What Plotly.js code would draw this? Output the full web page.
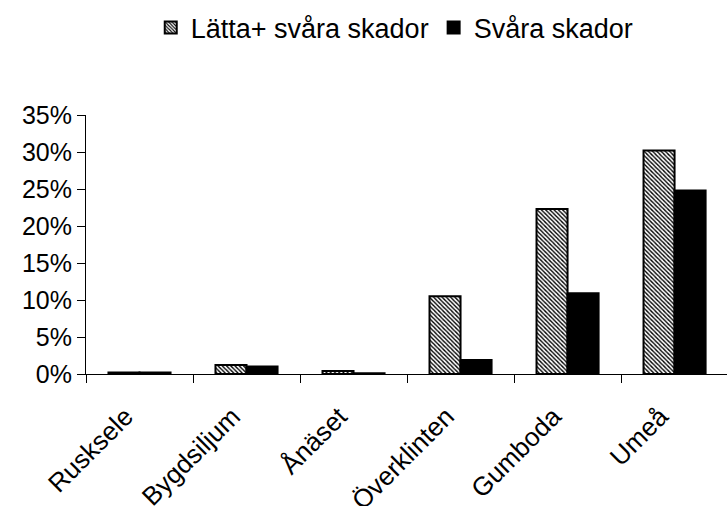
<!DOCTYPE html>
<html><head><meta charset="utf-8">
<script src="https://cdn.plot.ly/plotly-3.0.1.min.js"></script>
<style>body{margin:0;padding:0;background:#fff}#chart{width:727px;height:506px}</style>
</head><body><div id="chart"></div>
<script>
const categories = ["Rusksele", "Bygdsiljum", "Ånäset", "Överklinten", "Gumboda", "Umeå"];
const lattaSvara = [0.002, 0.012, 0.004, 0.105, 0.223, 0.302];
const svara = [0.002, 0.010, 0.001, 0.019, 0.109, 0.248];
const seriesNames = ["Lätta+ svåra skador", "Svåra skador"];
const yTicks = [0, 0.05, 0.10, 0.15, 0.20, 0.25, 0.30, 0.35];
const yTickText = ["0%", "5%", "10%", "15%", "20%", "25%", "30%", "35%"];

const fam = "Liberation Sans, Arial, sans-serif";
const traces = [
  {type: "bar", x: categories, y: lattaSvara, name: seriesNames[0],
   marker: {color: "#fff", line: {color: "#000", width: 2},
            pattern: {shape: "\\", fgcolor: "#000", bgcolor: "#fff", size: 3, solidity: 0.45}}},
  {type: "bar", x: categories, y: svara, name: seriesNames[1],
   marker: {color: "#000", line: {color: "#000", width: 2}}}
];
const layout = {
  width: 727, height: 506,
  margin: {l: 86, r: 0, t: 115, b: 132},
  paper_bgcolor: "#fff", plot_bgcolor: "#fff",
  font: {family: fam, size: 25, color: "#000"},
  barmode: "group", bargap: 0.42, bargroupgap: 0,
  showlegend: true,
  legend: {orientation: "h", x: 0.101, xanchor: "left", yref: "container", y: 1 - 28/506, yanchor: "middle",
           font: {family: fam, size: 27, color: "#000"}, itemwidth: 30, itemgap: 0, traceorder: "normal"},
  xaxis: {type: "category", range: [-0.5, 5.49], showgrid: false, showline: true, linecolor: "#000", linewidth: 1,
          ticks: "outside", tickson: "boundaries", ticklen: 8, tickcolor: "#000", tickangle: -45,
          ticklabelstandoff: 16, ticklabelshift: -14,
          tickfont: {family: fam, size: 26, color: "#000"}, fixedrange: true},
  yaxis: {range: [0, 0.35], tickvals: yTicks, ticktext: yTickText, showgrid: false, zeroline: false,
          showline: true, linecolor: "#000", linewidth: 1, ticks: "outside", ticklen: 8, tickcolor: "#000",
          tickfont: {family: fam, size: 25, color: "#000"}, fixedrange: true}
};
Plotly.newPlot("chart", traces, layout, {displayModeBar: false, staticPlot: true});
</script>
</body></html>
